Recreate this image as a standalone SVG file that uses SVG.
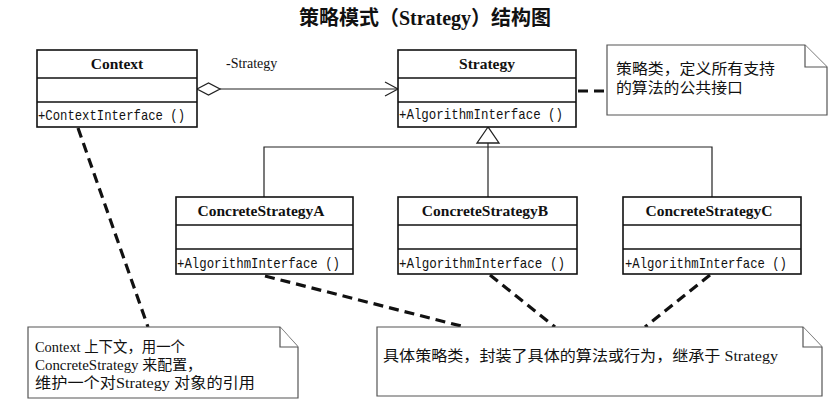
<svg xmlns="http://www.w3.org/2000/svg" width="828" height="403" viewBox="0 0 828 403">
<style>
.box{fill:#fff;stroke:#111;stroke-width:1.6}
.sep{stroke:#111;stroke-width:1.4}
.name{font-family:"Liberation Serif","Noto Sans CJK SC",serif;font-weight:bold;font-size:15.5px;fill:#111;text-anchor:middle}
.op{font-family:"Liberation Mono",monospace;font-size:15px;fill:#111}
.line{fill:none;stroke:#222;stroke-width:1.2}
.dash{fill:none;stroke:#111;stroke-width:3.2;stroke-dasharray:10 6}
.note{fill:#fff;stroke:#555;stroke-width:1.2}
.nt{font-family:"Liberation Serif","Noto Sans CJK SC",serif;font-size:15px;fill:#111}
.title{font-family:"Liberation Serif","Noto Sans CJK SC",serif;font-weight:bold;font-size:20px;fill:#111;text-anchor:middle}
.lbl{font-family:"Liberation Serif",serif;font-size:14px;fill:#111}
</style>
<rect width="828" height="403" fill="#fff"/>
<text class="title" x="425" y="25">策略模式（Strategy）结构图</text>

<g id="connectors">
  <line class="line" x1="220" y1="89" x2="398" y2="89"/>
  <polygon points="197,89 208.5,83 220,89 208.5,95" fill="#fff" stroke="#222" stroke-width="1.3"/>
  <polyline class="line" points="385,82 398,89 385,96" stroke-width="1.4"/>
  <text class="lbl" x="226" y="68">-Strategy</text>
  <polyline class="line" points="264,197 264,147 712,147 712,197"/>
  <line class="line" x1="488" y1="143" x2="488" y2="197"/>
  <polygon points="488,127 477,143 499,143" fill="#fff" stroke="#222" stroke-width="1.3"/>
  <line class="dash" x1="578" y1="91" x2="607" y2="91"/>
  <line class="dash" x1="78" y1="128" x2="148" y2="327"/>
  <line class="dash" x1="265" y1="276" x2="465" y2="327"/>
  <line class="dash" x1="490" y1="275" x2="555" y2="327"/>
  <line class="dash" x1="710" y1="275" x2="645" y2="327"/>
</g>

<g id="context">
  <rect class="box" x="37" y="50" width="160" height="77"/>
  <line class="sep" x1="37" y1="78" x2="197" y2="78"/>
  <line class="sep" x1="37" y1="102" x2="197" y2="102"/>
  <text class="name" x="117" y="69">Context</text>
  <text class="op" x="38" y="120" textLength="147" lengthAdjust="spacingAndGlyphs">+ContextInterface ()</text>
</g>

<g id="strategy">
  <rect class="box" x="398" y="50" width="178" height="77"/>
  <line class="sep" x1="398" y1="78" x2="576" y2="78"/>
  <line class="sep" x1="398" y1="102" x2="576" y2="102"/>
  <text class="name" x="487" y="69">Strategy</text>
  <text class="op" x="399" y="119" textLength="164" lengthAdjust="spacingAndGlyphs">+AlgorithmInterface ()</text>
</g>

<g id="concreteA">
  <rect class="box" x="176" y="197" width="177" height="77"/>
  <line class="sep" x1="176" y1="225" x2="353" y2="225"/>
  <line class="sep" x1="176" y1="249" x2="353" y2="249"/>
  <text class="name" x="261" y="216">ConcreteStrategyA</text>
  <text class="op" x="177" y="268" textLength="163" lengthAdjust="spacingAndGlyphs">+AlgorithmInterface ()</text>
</g>

<g id="concreteB">
  <rect class="box" x="398" y="197" width="179" height="77"/>
  <line class="sep" x1="398" y1="225" x2="577" y2="225"/>
  <line class="sep" x1="398" y1="249" x2="577" y2="249"/>
  <text class="name" x="485" y="216">ConcreteStrategyB</text>
  <text class="op" x="399" y="268" textLength="166" lengthAdjust="spacingAndGlyphs">+AlgorithmInterface ()</text>
</g>

<g id="concreteC">
  <rect class="box" x="623" y="197" width="178" height="77"/>
  <line class="sep" x1="623" y1="225" x2="801" y2="225"/>
  <line class="sep" x1="623" y1="249" x2="801" y2="249"/>
  <text class="name" x="709" y="216">ConcreteStrategyC</text>
  <text class="op" x="625" y="268" textLength="162" lengthAdjust="spacingAndGlyphs">+AlgorithmInterface ()</text>
</g>

<g id="note-strategy">
  <path class="note" d="M607,45 H805 L827,67 V115 H607 Z"/>
  <path class="note" d="M805,45 V67 H827" fill="none"/>
  <text class="nt" x="616" y="74" textLength="159" lengthAdjust="spacingAndGlyphs">策略类，定义所有支持</text>
  <text class="nt" x="616" y="93" textLength="127" lengthAdjust="spacingAndGlyphs">的算法的公共接口</text>
</g>

<g id="note-context">
  <path class="note" d="M28,327 H280 L298,347 V398 H28 Z"/>
  <path class="note" d="M280,327 V347 H298" fill="none"/>
  <text class="nt" x="35" y="352" textLength="150" lengthAdjust="spacingAndGlyphs">Context 上下文，用一个</text>
  <text class="nt" x="35" y="370" textLength="167" lengthAdjust="spacingAndGlyphs">ConcreteStrategy 来配置，</text>
  <text class="nt" x="35" y="388" textLength="220" lengthAdjust="spacingAndGlyphs">维护一个对Strategy 对象的引用</text>
</g>

<g id="note-concrete">
  <path class="note" d="M377,327 H803 L822,347 V396 H377 Z"/>
  <path class="note" d="M803,327 V347 H822" fill="none"/>
  <text class="nt" x="383" y="361" textLength="395" lengthAdjust="spacingAndGlyphs">具体策略类，封装了具体的算法或行为，继承于 Strategy</text>
</g>
</svg>
